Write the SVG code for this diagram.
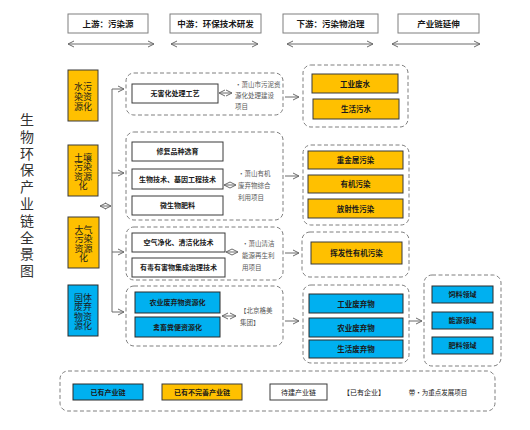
<svg xmlns="http://www.w3.org/2000/svg" width="530" height="430" viewBox="0 0 530 430">
<style>
text{font-family:"Noto Sans CJK SC","Noto Sans",sans-serif;fill:#1a1a1a}
.hd{fill:#fff;stroke:#7f7f7f;stroke-width:1}
.hdt{font-size:8.5px;font-weight:bold;text-anchor:middle}
.grp{fill:none;stroke:#7f7f7f;stroke-width:1;stroke-dasharray:4 2.5}
.org{fill:#FFC000;stroke:#3a3a3a;stroke-width:1}
.blu{fill:#00B0F0;stroke:#2a2a2a;stroke-width:1}
.wht{fill:#fff;stroke:#3a3a3a;stroke-width:1}
.bt{font-size:7.5px;font-weight:bold;text-anchor:middle}
.st{font-size:7px;font-weight:bold;text-anchor:middle}
.cat{font-size:9px;text-anchor:middle}
.ann{font-size:6.5px;fill:#595959}
.ln{stroke:#6b6b6b;stroke-width:1;fill:none}
.title{font-size:14px;fill:#333;text-anchor:middle}
</style>
<defs>
<marker id="ah" viewBox="0 0 8 8" refX="7" refY="4" markerWidth="8" markerHeight="8" markerUnits="userSpaceOnUse" orient="auto-start-reverse">
<path d="M1,1 L7,4 L1,7" fill="none" stroke="#6b6b6b" stroke-width="1"/>
</marker>
</defs>
<rect width="530" height="430" fill="#fff"/>

<g id="title">
<text class="title" x="27" y="125"><tspan x="27" dy="0">生</tspan><tspan x="27" dy="16.8">物</tspan><tspan x="27" dy="16.8">环</tspan><tspan x="27" dy="16.8">保</tspan><tspan x="27" dy="16.8">产</tspan><tspan x="27" dy="16.8">业</tspan><tspan x="27" dy="16.8">链</tspan><tspan x="27" dy="16.8">全</tspan><tspan x="27" dy="16.8">景</tspan><tspan x="27" dy="16.8">图</tspan></text>
</g>

<g id="headers">
<g id="h1"><rect class="hd" x="68" y="14" width="80" height="19"/><text class="hdt" x="108" y="27">上游：污染源</text></g>
<g id="h2"><rect class="hd" x="170" y="14" width="91" height="19"/><text class="hdt" x="215.5" y="27">中游：环保技术研发</text></g>
<g id="h3"><rect class="hd" x="283" y="14" width="95" height="19"/><text class="hdt" x="330.5" y="27">下游：污染物治理</text></g>
<g id="h4"><rect class="hd" x="398" y="14" width="81" height="19"/><text class="hdt" x="438.5" y="27">产业链延伸</text></g>
</g>

<g id="cat-water"><rect class="org" x="68" y="70" width="30" height="51"/><text class="cat" x="83" y="89.5"><tspan x="83" dy="0">水污</tspan><tspan x="83" dy="10">染资</tspan><tspan x="83" dy="10">源化</tspan></text></g>
<g id="cat-soil"><rect class="org" x="68" y="145" width="30" height="51"/><text class="cat" x="83" y="160.5"><tspan x="83" dy="0">土壤</tspan><tspan x="83" dy="9.6">污染</tspan><tspan x="83" dy="9.6">资源</tspan><tspan x="83" dy="9.6">化</tspan></text></g>
<g id="cat-air"><rect class="org" x="68" y="217" width="31" height="51"/><text class="cat" x="83.5" y="232.5"><tspan x="83.5" dy="0">大气</tspan><tspan x="83.5" dy="9.6">污染</tspan><tspan x="83.5" dy="9.6">资源</tspan><tspan x="83.5" dy="9.6">化</tspan></text></g>
<g id="cat-solid"><rect class="blu" x="68" y="285" width="30" height="51"/><text class="cat" x="83" y="300.5"><tspan x="83" dy="0">固体</tspan><tspan x="83" dy="9.6">废弃</tspan><tspan x="83" dy="9.6">物资</tspan><tspan x="83" dy="9.6">源化</tspan></text></g>

<g id="mid-water">
<rect class="grp" x="126" y="73" width="157" height="42" rx="8"/>
<rect class="wht" x="132" y="84" width="86" height="19"/><text class="st" x="175" y="96">无害化处理工艺</text>
<text class="ann" x="235" y="87"><tspan x="235" dy="0">•萧山市污泥资</tspan><tspan x="235" dy="11">源化处理建设</tspan><tspan x="235" dy="11">项目</tspan></text>
</g>
<g id="mid-soil">
<rect class="grp" x="126" y="132" width="157" height="88" rx="8"/>
<rect class="wht" x="132" y="142" width="91" height="19"/><text class="st" x="177.5" y="154">修复品种选育</text>
<rect class="wht" x="132" y="169" width="91" height="20"/><text class="st" x="177.5" y="181.5">生物技术、基因工程技术</text>
<rect class="wht" x="132" y="196" width="91" height="19"/><text class="st" x="177.5" y="208">微生物肥料</text>
<text class="ann" x="238" y="175.5"><tspan x="238" dy="0">•萧山有机</tspan><tspan x="238" dy="12">废弃物综合</tspan><tspan x="238" dy="12">利用项目</tspan></text>
</g>
<g id="mid-air">
<rect class="grp" x="126" y="227" width="157" height="53" rx="8"/>
<rect class="wht" x="132" y="233" width="93" height="19"/><text class="st" x="178.5" y="245">空气净化、清洁化技术</text>
<rect class="wht" x="132" y="258" width="93" height="19"/><text class="st" x="178.5" y="270">有毒有害物集成治理技术</text>
<text class="ann" x="242" y="245.5"><tspan x="242" dy="0">•萧山清洁</tspan><tspan x="242" dy="12">能源再生利</tspan><tspan x="242" dy="12">用项目</tspan></text>
</g>
<g id="mid-solid">
<rect class="grp" x="126" y="286" width="157" height="60" rx="8"/>
<rect class="blu" x="135" y="292" width="85" height="21"/><text class="st" x="177.5" y="305">农业废弃物资源化</text>
<rect class="blu" x="135" y="317" width="85" height="20"/><text class="st" x="177.5" y="329.5">禽畜粪便资源化</text>
<text class="ann" x="240" y="312.5"><tspan x="240" dy="0">【北京格美</tspan><tspan x="240" dy="12.5">集团】</tspan></text>
</g>

<g id="down-water">
<rect class="grp" x="303" y="65" width="105" height="62" rx="8"/>
<rect class="org" x="312" y="74" width="86" height="19"/><text class="bt" x="355" y="86.5">工业废水</text>
<rect class="org" x="313" y="99" width="86" height="20"/><text class="bt" x="356" y="112">生活污水</text>
</g>
<g id="down-soil">
<rect class="grp" x="303" y="145" width="106" height="80" rx="8"/>
<rect class="org" x="308" y="151" width="95" height="18"/><text class="bt" x="355.5" y="163">重金属污染</text>
<rect class="org" x="308" y="175" width="95" height="18"/><text class="bt" x="355.5" y="187">有机污染</text>
<rect class="org" x="308" y="199" width="95" height="19"/><text class="bt" x="355.5" y="211.5">放射性污染</text>
</g>
<g id="down-air">
<rect class="grp" x="302" y="232" width="107" height="45" rx="8"/>
<rect class="org" x="311" y="242" width="91" height="22"/><text class="bt" x="356.5" y="256">挥发性有机污染</text>
</g>
<g id="down-solid">
<rect class="grp" x="303" y="285" width="106" height="78" rx="8"/>
<rect class="blu" x="309" y="294" width="94" height="19"/><text class="bt" x="356" y="306.5">工业废弃物</text>
<rect class="blu" x="309" y="318" width="94" height="19"/><text class="bt" x="356" y="330.5">农业废弃物</text>
<rect class="blu" x="309" y="340" width="94" height="18"/><text class="bt" x="356" y="352">生活废弃物</text>
</g>
<g id="extension">
<rect class="grp" x="424" y="275" width="77" height="91" rx="8"/>
<rect class="blu" x="432" y="286" width="61" height="17"/><text class="st" x="462.5" y="297">饲料领域</text>
<rect class="blu" x="432" y="312" width="61" height="17"/><text class="st" x="462.5" y="323">能源领域</text>
<rect class="blu" x="432" y="337" width="61" height="17"/><text class="st" x="462.5" y="348">肥料领域</text>
</g>

<g id="legend">
<rect class="grp" x="60" y="371" width="435" height="40" rx="8"/>
<rect class="blu" x="73" y="384" width="70" height="16"/><text class="st" x="108" y="394.5">已有产业链</text>
<rect class="org" x="162" y="384" width="80" height="16"/><text class="st" x="202" y="394.5">已有不完善产业链</text>
<rect class="wht" x="270" y="384" width="57" height="16"/><text class="st" x="298.5" y="394.5" style="font-weight:normal">待建产业链</text>
<text class="st" x="364" y="394.5" style="font-weight:normal">【已有企业】</text>
<text class="st" x="438" y="394.5" style="font-weight:normal;font-size:6.5px">带•为重点发展项目</text>
</g>

<g id="connectors">
<line class="ln" x1="68" y1="44" x2="154" y2="44" marker-start="url(#ah)" marker-end="url(#ah)"/>
<line class="ln" x1="171" y1="44" x2="258" y2="44" marker-start="url(#ah)" marker-end="url(#ah)"/>
<line class="ln" x1="287" y1="44" x2="373" y2="44" marker-start="url(#ah)" marker-end="url(#ah)"/>
<line class="ln" x1="392" y1="44" x2="480" y2="44" marker-start="url(#ah)" marker-end="url(#ah)"/>
<line class="ln" x1="112" y1="89" x2="112" y2="312"/>
<line class="ln" x1="112" y1="89" x2="124" y2="89" marker-end="url(#ah)"/>
<line class="ln" x1="112" y1="173" x2="124" y2="173" marker-end="url(#ah)"/>
<line class="ln" x1="112" y1="252" x2="124" y2="252" marker-end="url(#ah)"/>
<line class="ln" x1="112" y1="312" x2="124" y2="312" marker-end="url(#ah)"/>
<line class="ln" x1="100" y1="206" x2="111" y2="206" marker-start="url(#ah)" marker-end="url(#ah)"/>
<line class="ln" x1="219" y1="93" x2="232" y2="93" marker-start="url(#ah)" marker-end="url(#ah)"/>
<line class="ln" x1="224" y1="185" x2="236" y2="185" marker-start="url(#ah)" marker-end="url(#ah)"/>
<line class="ln" x1="226" y1="252" x2="238" y2="252" marker-start="url(#ah)" marker-end="url(#ah)"/>
<line class="ln" x1="222" y1="316" x2="236" y2="316" marker-start="url(#ah)" marker-end="url(#ah)"/>
<line class="ln" x1="285" y1="97" x2="299" y2="97" marker-end="url(#ah)"/>
<line class="ln" x1="285" y1="176" x2="299" y2="176" marker-end="url(#ah)"/>
<line class="ln" x1="285" y1="253" x2="299" y2="253" marker-end="url(#ah)"/>
<line class="ln" x1="285" y1="321" x2="299" y2="321" marker-end="url(#ah)"/>
<line class="ln" x1="409" y1="321" x2="422" y2="321" marker-end="url(#ah)"/>
</g>
</svg>
